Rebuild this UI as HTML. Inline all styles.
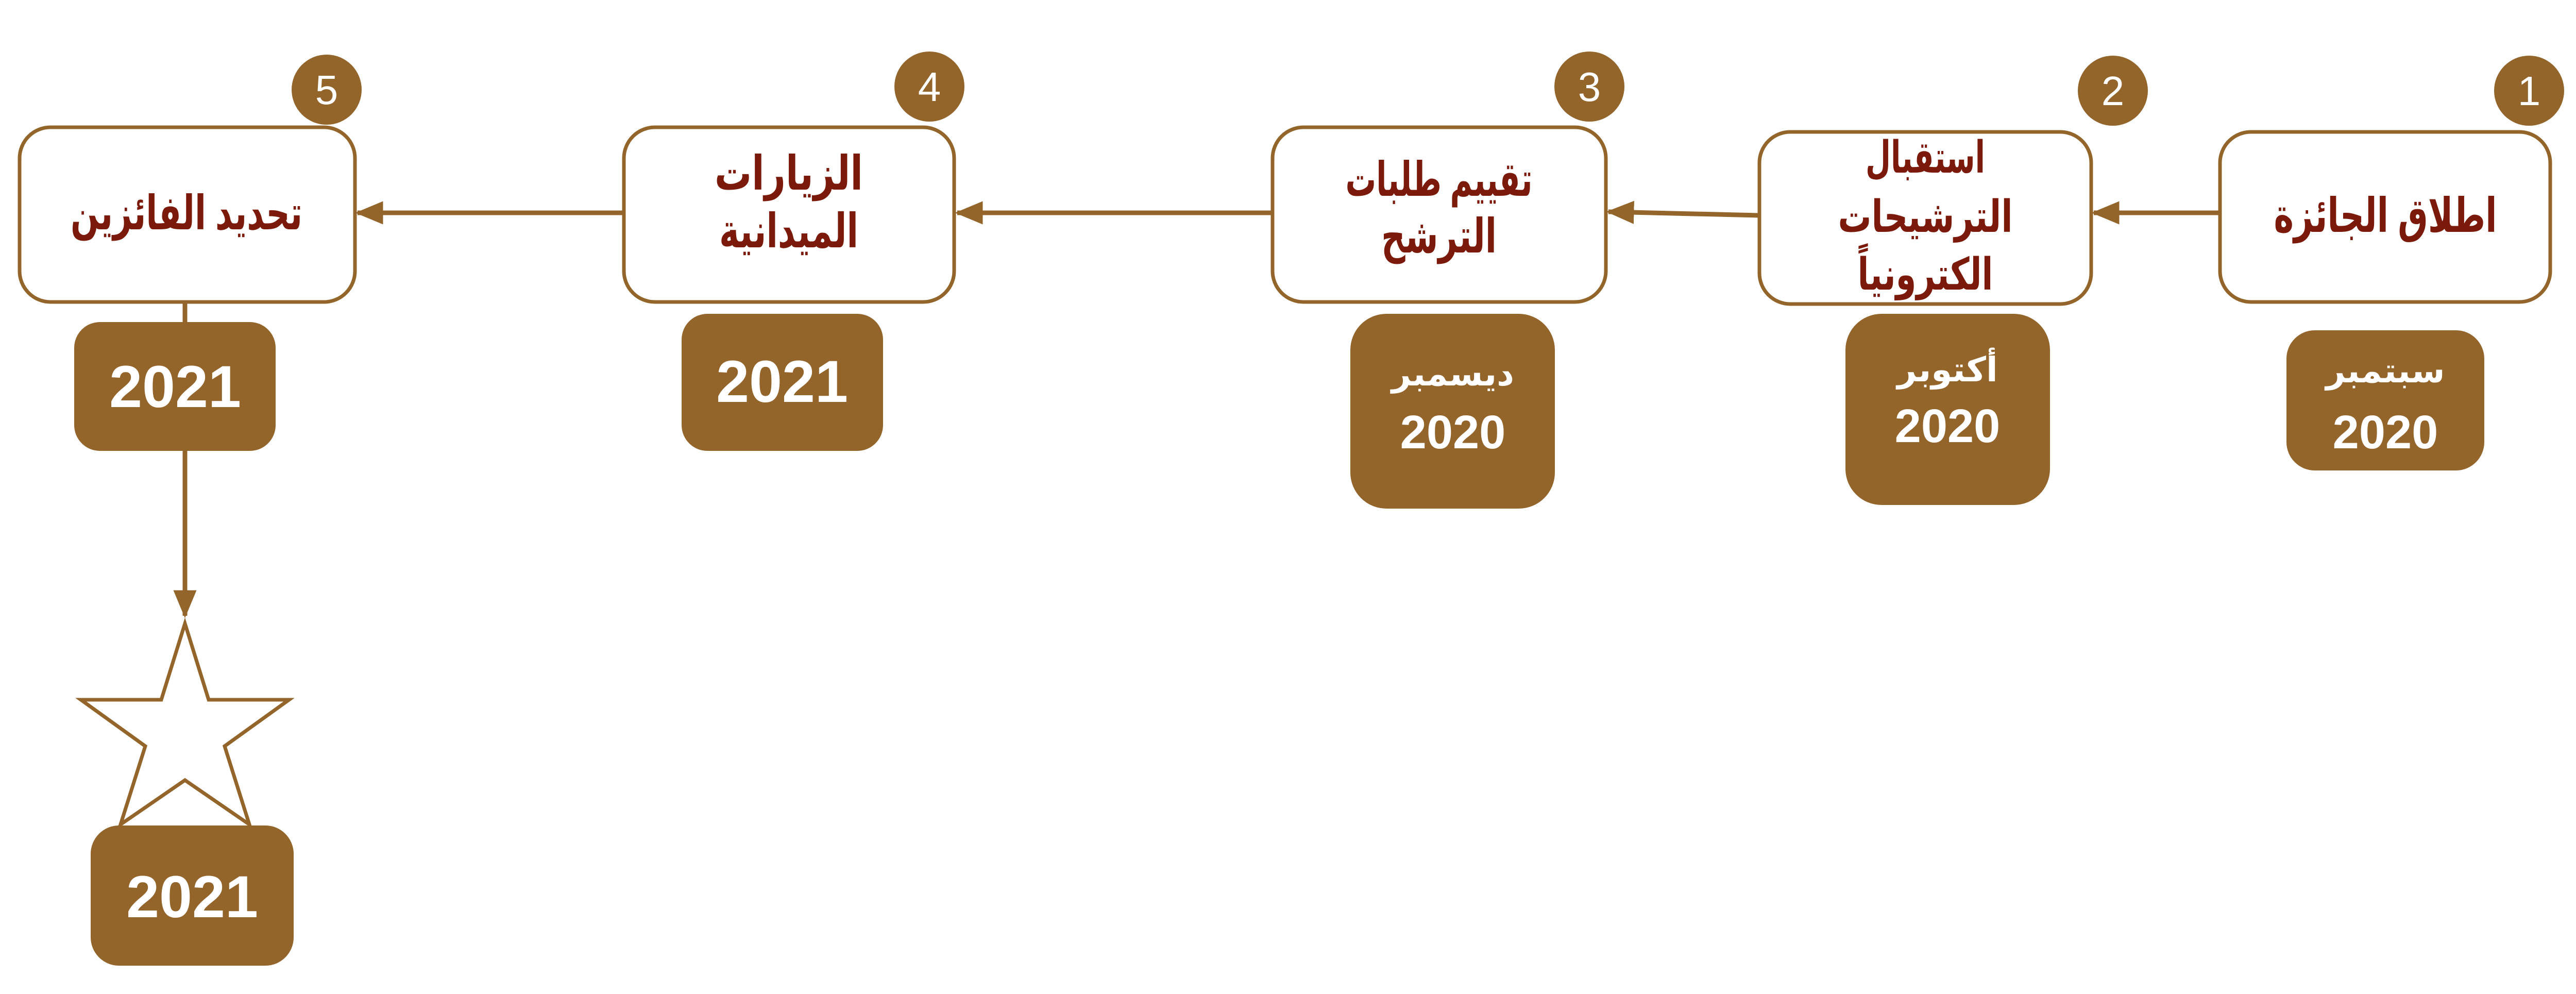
<!DOCTYPE html>
<html><head><meta charset="utf-8"><style>
html,body{margin:0;padding:0;background:#fff;width:5024px;height:1929px;overflow:hidden}
svg{display:block}
.t{font-family:"Liberation Sans","DejaVu Sans",sans-serif;font-weight:bold;fill:#7b1a0a;text-anchor:middle}
.w{font-family:"Liberation Sans","DejaVu Sans",sans-serif;font-weight:bold;fill:#fff;text-anchor:middle}
.n{font-family:"Liberation Sans","DejaVu Sans",sans-serif;fill:#fff;text-anchor:middle}
</style></head><body>
<svg width="5024" height="1929" viewBox="0 0 5024 1929" xmlns="http://www.w3.org/2000/svg">
<defs><marker id="a" markerWidth="6" markerHeight="5" refX="5.5" refY="2.5" orient="auto" markerUnits="strokeWidth"><path d="M0,0 L6,2.5 L0,5 Z" fill="#93652b"/></marker></defs>
<g stroke="#93652b" stroke-width="9" fill="none">
<line x1="4309" y1="413" x2="4064" y2="413" marker-end="url(#a)"/>
<line x1="3415" y1="418" x2="3122" y2="411" marker-end="url(#a)"/>
<line x1="2470" y1="413" x2="1858" y2="413" marker-end="url(#a)"/>
<line x1="1211" y1="413" x2="694" y2="413" marker-end="url(#a)"/>
<line x1="359" y1="586" x2="359" y2="1195" marker-end="url(#a)"/>
</g>
<g fill="#fff" stroke="#93652b" stroke-width="7">
<rect x="38" y="247" width="651" height="339" rx="60"/>
<rect x="1211" y="247" width="641" height="339" rx="60"/>
<rect x="2470" y="247" width="647" height="339" rx="60"/>
<rect x="3415" y="256" width="644" height="334" rx="60"/>
<rect x="4309" y="256" width="641" height="330" rx="60"/>
<polygon points="359,1210 405,1358 561,1358 436,1448 484,1600 359,1514 234,1600 282,1448 157,1358 313,1358"/>
</g>
<g fill="#93652b">
<circle cx="634" cy="174" r="68"/><circle cx="1804" cy="168" r="68"/><circle cx="3085" cy="168" r="68"/><circle cx="4101" cy="176" r="68"/><circle cx="4909" cy="176" r="68"/>
<rect x="144" y="625" width="391" height="250" rx="50"/>
<rect x="1323" y="609" width="391" height="266" rx="50"/>
<rect x="2621" y="609" width="397" height="378" rx="70"/>
<rect x="3582" y="609" width="397" height="371" rx="70"/>
<rect x="4438" y="641" width="384" height="272" rx="55"/>
<rect x="176" y="1602" width="394" height="272" rx="55"/>
</g>
<g class="n" font-size="80">
<text x="634" y="202">5</text><text x="1804" y="196">4</text><text x="3085" y="196">3</text><text x="4101" y="204">2</text><text x="4909" y="204">1</text>
</g>
<g class="t" font-size="92">
<text x="362" y="445" direction="rtl" textLength="450" lengthAdjust="spacingAndGlyphs">تحديد الفائزين</text>
<text x="1531" y="368" direction="rtl" textLength="288" lengthAdjust="spacingAndGlyphs">الزيارات</text>
<text x="1531" y="480" direction="rtl" textLength="270" lengthAdjust="spacingAndGlyphs">الميدانية</text>
<text x="2793" y="380" direction="rtl" textLength="363" lengthAdjust="spacingAndGlyphs">تقييم طلبات</text>
<text x="2793" y="490" direction="rtl" textLength="224" lengthAdjust="spacingAndGlyphs">الترشح</text>
<g font-size="86">
<text x="3737" y="335" direction="rtl" textLength="232" lengthAdjust="spacingAndGlyphs">استقبال</text>
<text x="3737" y="450" direction="rtl" textLength="339" lengthAdjust="spacingAndGlyphs">الترشيحات</text>
<text x="3737" y="562" direction="rtl" textLength="263" lengthAdjust="spacingAndGlyphs">الكترونياً</text>
</g>
<text x="4630" y="450" direction="rtl" textLength="433" lengthAdjust="spacingAndGlyphs">اطلاق الجائزة</text>
</g>
<g class="w">
<text x="340" y="790" font-size="115">2021</text>
<text x="1518" y="780" font-size="115">2021</text>
<text x="373" y="1780" font-size="115">2021</text>
<text x="2820" y="748" font-size="66" direction="rtl">ديسمبر</text>
<text x="2820" y="870" font-size="92">2020</text>
<text x="3780" y="740" font-size="66" direction="rtl">أكتوبر</text>
<text x="3780" y="858" font-size="92">2020</text>
<text x="4630" y="742" font-size="66" direction="rtl">سبتمبر</text>
<text x="4630" y="870" font-size="92">2020</text>
</g>
</svg>
</body></html>
